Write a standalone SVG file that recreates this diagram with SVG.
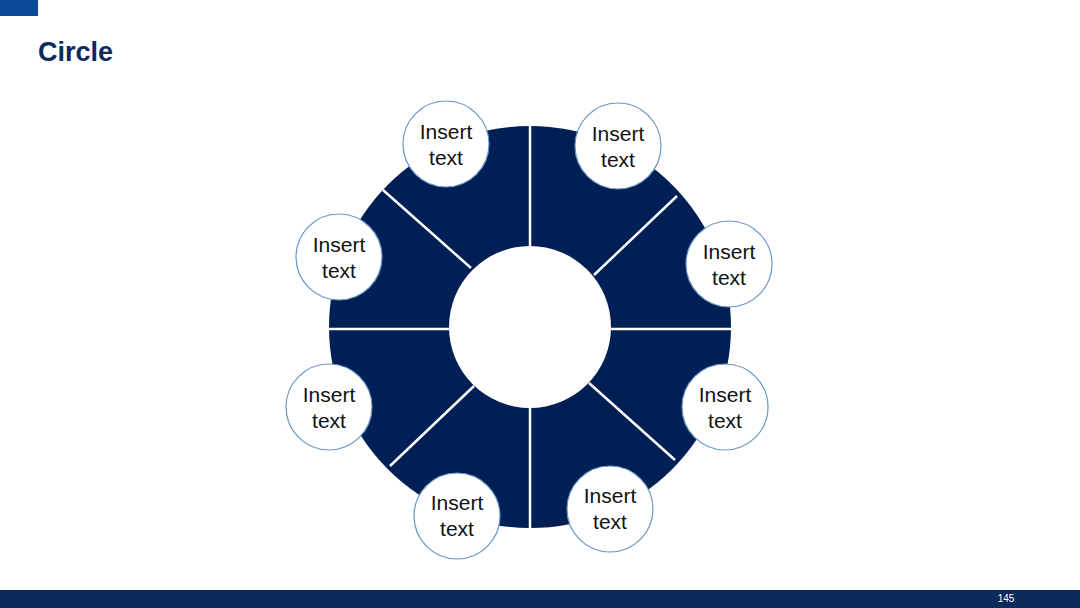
<svg xmlns="http://www.w3.org/2000/svg" width="1080" height="608" viewBox="0 0 1080 608">
<style>
.n circle{fill:#fff;stroke:#6a97c4;stroke-width:1.2}
.n text{font-family:"Liberation Sans",Arial,sans-serif;font-size:21px;fill:#111;text-anchor:middle}
.sep{stroke:#fff;stroke-width:2.5}
</style>
<rect width="1080" height="608" fill="#fff"/>
<rect x="0" y="0" width="38" height="16" fill="#0d4a97"/>
<text x="38" y="61" font-family="Liberation Sans,Arial,sans-serif" font-size="27" font-weight="bold" fill="#0d2a5c">Circle</text>
<rect x="0" y="590" width="1080" height="18" fill="#0d2a5c"/>
<text x="1006" y="602" font-family="Liberation Sans,Arial,sans-serif" font-size="10" fill="#fff" text-anchor="middle">145</text>
<g id="ring">
<circle cx="530" cy="327" r="201" fill="#001f55"/>
<circle cx="530" cy="327" r="81" fill="#fff"/>
</g>
<g id="connectors">
<line class="sep" x1="530" y1="120" x2="530" y2="246"/>
<line class="sep" x1="530" y1="408" x2="530" y2="534"/>
<line class="sep" x1="323" y1="329" x2="449" y2="329"/>
<line class="sep" x1="611" y1="329" x2="737" y2="329"/>
<line class="sep" x1="383" y1="190" x2="471" y2="268"/>
<line class="sep" x1="677" y1="196" x2="594" y2="275"/>
<line class="sep" x1="390" y1="466" x2="474" y2="386"/>
<line class="sep" x1="675" y1="460" x2="589" y2="383"/>
</g>
<g id="n1" class="n"><circle cx="446" cy="144" r="43"/><text x="446" y="139">Insert</text><text x="446" y="165">text</text></g>
<g id="n2" class="n"><circle cx="618" cy="146" r="43"/><text x="618" y="141">Insert</text><text x="618" y="167">text</text></g>
<g id="n3" class="n"><circle cx="339" cy="257" r="43"/><text x="339" y="252">Insert</text><text x="339" y="278">text</text></g>
<g id="n4" class="n"><circle cx="729" cy="264" r="43"/><text x="729" y="259">Insert</text><text x="729" y="285">text</text></g>
<g id="n5" class="n"><circle cx="329" cy="407" r="43"/><text x="329" y="402">Insert</text><text x="329" y="428">text</text></g>
<g id="n6" class="n"><circle cx="725" cy="407" r="43"/><text x="725" y="402">Insert</text><text x="725" y="428">text</text></g>
<g id="n7" class="n"><circle cx="457" cy="516" r="43"/><text x="457" y="510">Insert</text><text x="457" y="536">text</text></g>
<g id="n8" class="n"><circle cx="610" cy="509" r="43"/><text x="610" y="503">Insert</text><text x="610" y="529">text</text></g>
</svg>
